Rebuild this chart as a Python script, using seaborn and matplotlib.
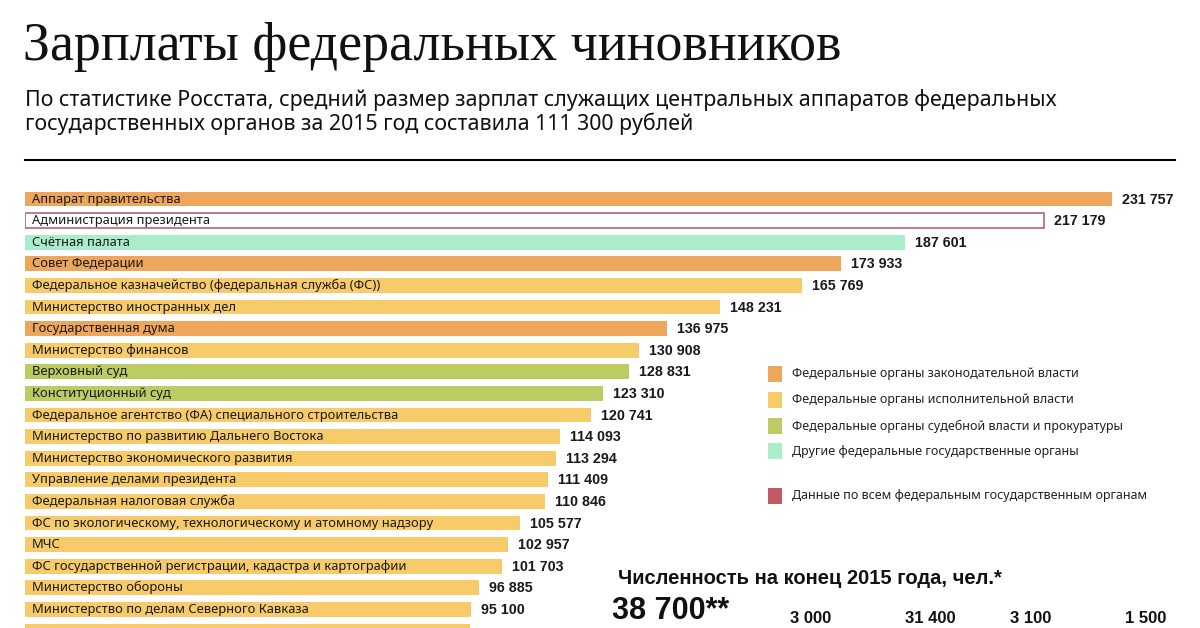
import matplotlib
matplotlib.use("Agg")
import matplotlib.pyplot as plt
import seaborn as sns
import pandas as pd

labels = [
    "Аппарат правительства",
    "Администрация президента",
    "Счётная палата",
    "Совет Федерации",
    "Федеральное казначейство (федеральная служба (ФС))",
    "Министерство иностранных дел",
    "Государственная дума",
    "Министерство финансов",
    "Верховный суд",
    "Конституционный суд",
    "Федеральное агентство (ФА) специального строительства",
    "Министерство по развитию Дальнего Востока",
    "Министерство экономического развития",
    "Управление делами президента",
    "Федеральная налоговая служба",
    "ФС по экологическому, технологическому и атомному надзору",
    "МЧС",
    "ФС государственной регистрации, кадастра и картографии",
    "Министерство обороны",
    "Министерство по делам Северного Кавказа",
    "Федеральная служба по финансовому мониторингу",
]
values = [231757, 217179, 187601, 173933, 165769, 148231, 136975, 130908,
          128831, 123310, 120741, 114093, 113294, 111409, 110846, 105577,
          102957, 101703, 96885, 95100, 94969]
groups = ["leg", "all", "other", "leg", "exec", "exec", "leg", "exec",
          "jud", "jud", "exec", "exec", "exec", "exec", "exec", "exec",
          "exec", "exec", "exec", "exec", "exec"]

legend_keys = ["leg", "exec", "jud", "other", "all"]
legend_texts = [
    "Федеральные органы законодательной власти",
    "Федеральные органы исполнительной власти",
    "Федеральные органы судебной власти и прокуратуры",
    "Другие федеральные государственные органы",
    "Данные по всем федеральным государственным органам",
]
colors = {"leg": "#eea55c", "exec": "#f7cb6a", "jud": "#bccb62",
          "other": "#a9edca", "all": "#c25a64"}

count_title = "Численность на конец 2015 года, чел.*"
count_values = ["38 700**", "3 000", "31 400", "3 100", "1 500"]

title = "Зарплаты федеральных чиновников"
subtitle = ("По статистике Росстата, средний размер зарплат служащих центральных аппаратов федеральных\n"
            "государственных органов за 2015 год составила 111 300 рублей")

def fmt(v):
    return f"{v:,}".replace(",", " ")

W, H = 1200, 628
fig = plt.figure(figsize=(12, 6.28), dpi=100)
fig.patch.set_facecolor("white")

sans = ["Noto Sans", "DejaVu Sans"]
bold_sans = ["Liberation Sans", "DejaVu Sans"]

# Title and subtitle
fig.text(23 / W, 1 - 47 / H, title, family=["Liberation Serif", "DejaVu Serif"],
         fontsize=38.8, va="center", ha="left", color="#111111")
fig.text(25 / W, 1 - 112 / H, subtitle, family=sans, fontsize=15.4,
         va="center", ha="left", color="#111111", linespacing=1.08)
fig.add_artist(plt.Line2D([25 / W, 1175 / W], [1 - 160 / H, 1 - 160 / H],
                          color="black", lw=1.5, transform=fig.transFigure))

# Bar axes
px_per_unit = (1112 - 25) / 231757
ax = fig.add_axes([25 / W, 0, 1175 / W, (628 - 188) / H])
df = pd.DataFrame({"label": labels, "value": values, "group": groups})
sns.barplot(data=df, y="label", x="value", hue="group", palette=colors,
            dodge=False, width=0.69, legend=False, ax=ax, saturation=1,
            orient="h")
for p in ax.patches:
    if abs(p.get_width() - 217179) < 1:
        p.set_facecolor("white")
        p.set_edgecolor("#b9727c")
        p.set_linewidth(1.3)
    else:
        p.set_edgecolor("none")

ymax = -0.51 + (628 - 188) / 21.6
ax.set_xlim(0, 1175 / px_per_unit)
ax.set_ylim(ymax, -0.51)
for i, (lab, v) in enumerate(zip(labels, values)):
    if i + 0.35 > ymax:
        continue  # row centre lies below the figure edge; only the bar top shows
    ax.text(7 / px_per_unit, i, lab, family=sans, fontsize=9.3, va="center",
            ha="left", color="#1a1a1a")
    ax.text(v + 10 / px_per_unit, i + 0.03, fmt(v), family=bold_sans,
            fontweight="bold", fontsize=10.3, va="center", ha="left",
            color="#1a1a1a")
ax.axis("off")

# Legend
ys = [374, 400, 426, 451, 496]
for k, t, y in zip(legend_keys, legend_texts, ys):
    fig.add_artist(plt.Rectangle((768 / W, 1 - (y + 8) / H), 14 / W, 16 / H,
                                 facecolor=colors[k], edgecolor="none",
                                 transform=fig.transFigure))
    fig.text(792 / W, 1 - y / H, t, family=sans, fontsize=9, va="center",
             ha="left", color="#222222",
             fontweight="bold" if k == "all" else "normal")

# Head-count block
fig.text(618 / W, 1 - 578 / H, count_title, family=bold_sans, fontweight="bold",
         fontsize=14.5, va="center", ha="left", color="#111111")
xs = [612, 790, 905, 1010, 1125]
sizes = [22, 12, 12, 12, 12]
for x, s, lab in zip(xs, sizes, count_values):
    fig.text(x / W, 1 - 626 / H, lab, family=bold_sans, fontweight="bold",
             fontsize=s, va="bottom", ha="left", color="#111111")

fig.savefig("out.png", dpi=100, facecolor="white")
